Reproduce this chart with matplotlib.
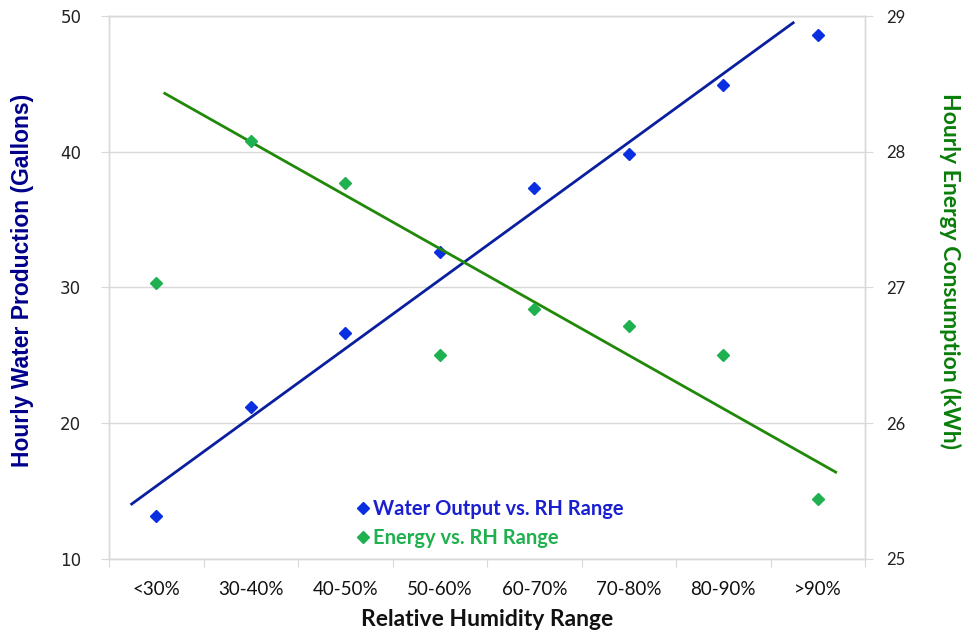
import matplotlib
matplotlib.use("Agg")
import matplotlib.pyplot as plt
from matplotlib.lines import Line2D
import numpy as np

# ---- data ----
categories = ["<30%", "30-40%", "40-50%", "50-60%", "60-70%", "70-80%", "80-90%", ">90%"]
water_output = [13.2, 21.2, 26.65, 32.6, 37.3, 39.8, 44.9, 48.6]
energy_use = [27.03, 28.08, 27.77, 26.50, 26.84, 26.72, 26.50, 25.44]
# trend lines (category index, 1-based)
water_trend_x = [0.74, 7.74]
water_trend_y = [14.05, 49.5]
energy_trend_x = [1.09, 8.19]
energy_trend_y = [28.43, 25.64]
left_ticks = [10, 20, 30, 40, 50]
right_ticks = [25, 26, 27, 28, 29]

BLUE_PT = "#0a2fe0"
BLUE_LN = "#0a1f9e"
GREEN_PT = "#1fb04f"
GREEN_LN = "#21890a"
GRID = "#d9d9d9"

fig = plt.figure(figsize=(9.64, 6.35), dpi=100)
ax = fig.add_axes([0.1131, 0.1197, 0.7842, 0.8551])
ax2 = ax.twinx()

n = len(categories)
xpos = np.arange(1, n + 1) - 0.5  # centred in slots 0..n

ax.set_xlim(0, n)
ax.set_ylim(10, 50)
ax2.set_ylim(25, 29)

ax.set_yticks(left_ticks)
ax2.set_yticks(right_ticks)
ax.grid(axis="y", color=GRID, linewidth=1)
ax.set_axisbelow(True)

ax.set_xticks(np.arange(0, n + 1))
ax.set_xticklabels([])
ax.set_xticks(xpos, minor=True)
ax.set_xticklabels(categories, minor=True, fontfamily="Lato", fontsize=13.5, color="#111111")
ax.tick_params(axis="x", which="minor", length=0, pad=16)
ax.tick_params(axis="x", which="major", length=6, color=GRID, direction="out")
ax.tick_params(axis="y", length=6, color=GRID, pad=14, labelsize=12, labelcolor="#222222")
ax2.tick_params(axis="y", length=6, color=GRID, pad=9, labelsize=12, labelcolor="#222222")
for lbl in ax2.get_yticklabels():
    lbl.set_fontfamily("Lato")

for a in (ax, ax2):
    for s in a.spines.values():
        s.set_color(GRID)
        s.set_linewidth(1)

# trend lines
ax.plot(np.array(water_trend_x) - 0.5, water_trend_y, color=BLUE_LN, linewidth=2.0, zorder=3)
ax2.plot(np.array(energy_trend_x) - 0.5, energy_trend_y, color=GREEN_LN, linewidth=2.0, zorder=3)

# points
ax.plot(xpos, water_output, linestyle="none", marker="D", markersize=6.5,
        color=BLUE_PT, zorder=4)
ax2.plot(xpos, energy_use, linestyle="none", marker="D", markersize=6.5,
         color=GREEN_PT, zorder=4)

ax.set_ylabel("Hourly Water Production (Gallons)", fontfamily="Liberation Sans",
              fontweight="bold", fontsize=16.5, color="#00008b", va="center")
ax.yaxis.set_label_coords(-0.115, 0.514)
ax2.set_ylabel("Hourly Energy Consumption (kWh)", fontfamily="Lato",
               fontweight="bold", fontsize=16.5, color="#0a7d0a", rotation=270,
               va="center")
ax2.yaxis.set_label_coords(1.113, 0.53)
ax.set_xlabel("Relative Humidity Range", fontfamily="Lato", fontweight="bold",
              fontsize=16.5, color="#111111", labelpad=8)

handles = [
    Line2D([], [], linestyle="none", marker="D", markersize=6, color=BLUE_PT),
    Line2D([], [], linestyle="none", marker="D", markersize=6, color=GREEN_PT),
]
leg = ax.legend(handles, ["Water Output vs. RH Range", "Energy vs. RH Range"],
                loc="lower left", bbox_to_anchor=(0.298, -0.013), frameon=False,
                prop={"family": "Lato", "weight": "bold", "size": 14.5},
                handletextpad=0.0, handlelength=1.0, labelspacing=0.45)
for t, c in zip(leg.get_texts(), ["#1a1fd0", "#1fb04f"]):
    t.set_color(c)

fig.savefig("out.png", dpi=100)
